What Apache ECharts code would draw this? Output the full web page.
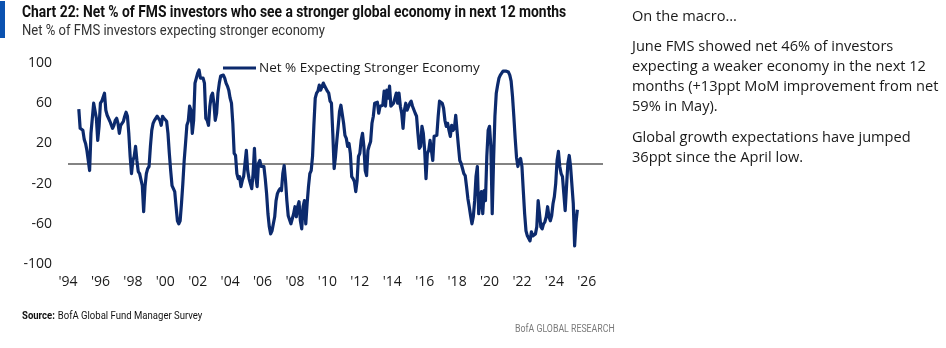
<!DOCTYPE html>
<html>
<head>
<meta charset="utf-8">
<script src="https://cdn.jsdelivr.net/npm/echarts@6/dist/echarts.min.js"></script>
<style>
html,body{margin:0;padding:0;background:#fff;}
#chart{width:946px;height:348px;}
</style>
</head>
<body>
<div id="chart"></div>
<script>
// Series start: September 1994, monthly
const startYear = 1994;
const startMonthIndex = 8; // 0 = Jan
const vals1990s = [
  54, 35, 34, 33,
  24, 20, 13, 3, -7, 30, 45, 60, 60, 45, 23, 37,
  60, 62, 62, 70, 53, 48, 45, 42, 43, 35, 38, 43,
  45, 40, 30, 38, 37, 42, 47, 51, 47, 30, 7, -10,
  3, 7, 17, 3, -8, -10, -10, -22, -48, -23, -10, -5,
  -3, 17, 33, 40, 43, 42, 47, 45, 43, 38, 47, 45
];
const vals2000s = [
  44, 42, 30, 10, -7, -22, -25, -28, -43, -57, -60, -57,
  -40, -20, 3, 20, 38, 42, 57, 53, 30, 43, 80, 85,
  90, 93, 85, 85, 85, 80, 45, 43, 38, 57, 67, 70,
  60, 43, 50, 70, 80, 87, 88, 88, 85, 80, 77, 73,
  65, 60, 40, 10, 8, -10, -15, -13, -23, -17, -13, -12,
  13, -7, -15, -20, -25, -10, 15, -13, -23, 0, 3, -3,
  -2, -3, -15, -30, -50, -63, -70, -67, -60, -53, -37, -30,
  -27, -25, -27, -10, -2, -17, -37, -52, -53, -60, -55, -50,
  -43, -53, -43, -38, -57, -65, -43, -37, -60, -40, -23, -10,
  -7, 7, 38, 65, 70, 72, 78, 73, 73, 80, 77, 77
];
const vals2010s = [
  72, 70, 62, 60, 30, -5, 7, 23, 37, 52, 58, 58,
  40, 28, 25, 17, 20, 10, -13, -15, -18, -28, -17, 7,
  10, 23, 30, 17, -7, -12, 13, 18, 22, 40, 47, 60,
  60, 61, 50, 57, 58, 58, 72, 57, 73, 65, 77, 57,
  57, 60, 65, 70, 60, 70, 57, 50, 35, 53, 60, 53,
  53, 60, 62, 57, 57, 50, 47, 30, 15, 17, 37, 30,
  13, -15, 10, 13, 23, 23, 3, 27, 27, 28, 47, 62,
  63, 60, 55, 43, 37, 40, 33, 27, 38, 33, 35, 48,
  32, 17, 3, 0, -5, -10, -12, -23, -35, -43, -52, -60,
  -53, -37, -13, -3, -50, -37, -28, -50, -27, -37, 7, 33
];
const vals2020s = [
  37, 17, -50, 3, 47, 70, 78, 85, 88, 90, 92, 92,
  92, 92, 91, 88, 82, 67, 47, 25, 6, -3, 3, 5,
  -3, -27, -50, -67, -72, -73, -77, -68, -72, -72, -70, -63,
  -37, -50, -63, -65, -60, -58, -53, -43, -53, -57, -52, -40,
  -33, -20, 3, 12, -3, -10, -13, -30, -47, -23, 0, 8,
  -3, -2, -40, -82, -59, -46
];
const tickYears = [1994, 1996, 1998, 2000, 2002, 2004, 2006, 2008, 2010, 2012, 2014, 2016, 2018, 2020, 2022, 2024, 2026];
const tickLabels = ["'94", "'96", "'98", "'00", "'02", "'04", "'06", "'08", "'10", "'12", "'14", "'16", "'18", "'20", "'22", "'24", "'26"];
const yTicks = [-100, -60, -20, 20, 60, 100];
const seriesName = 'Net % Expecting Stronger Economy';

const allVals = vals1990s.concat(vals2000s, vals2010s, vals2020s);
const seriesData = allVals.map((v, i) => [startYear + (startMonthIndex + i) / 12, v]);

const chart = echarts.init(document.getElementById('chart'), null, {renderer: 'canvas'});
const axisFont = 'Open Sans';
const narrow = (txt, x, y, size, weight, fill, sx) => ({
  type: 'text', x: x, y: y, scaleX: sx, scaleY: 1,
  style: {text: txt, font: weight + ' ' + size + 'px Roboto', fill: fill, verticalAlign: 'middle', align: 'left'}
});
const body = (txt, y) => ({
  type: 'text', x: 632, y: y,
  style: {text: txt, font: '14.6px "Open Sans"', fill: '#1a1a1a', verticalAlign: 'middle', align: 'left'}
});
chart.setOption({
  animation: false,
  backgroundColor: '#ffffff',
  grid: {left: 68, right: 343, top: 63, bottom: 84, containLabel: false},
  legend: {
    data: [seriesName],
    left: 218, top: 56,
    icon: 'rect', itemWidth: 33, itemHeight: 3, itemGap: 10,
    textStyle: {fontFamily: axisFont, fontSize: 13.5, color: '#1a1a1a', padding: [0,0,0,-2]}
  },
  xAxis: {
    type: 'value', min: 1994, max: 2027, interval: 2,
    axisLine: {show: false}, axisTick: {show: false}, splitLine: {show: false},
    axisLabel: {
      fontFamily: axisFont, fontSize: 14, color: '#1a1a1a', margin: 11,
      showMaxLabel: false,
      formatter: v => { const k = tickYears.indexOf(Math.round(v)); return k >= 0 ? tickLabels[k] : ''; }
    }
  },
  yAxis: {
    type: 'value', min: yTicks[0], max: yTicks[yTicks.length - 1], interval: 40,
    axisLine: {show: false}, axisTick: {show: false}, splitLine: {show: false},
    axisLabel: {fontFamily: axisFont, fontSize: 14, color: '#1a1a1a', margin: 16}
  },
  series: [{
    name: seriesName, type: 'line', data: seriesData,
    symbol: 'none', smooth: false,
    lineStyle: {color: '#0c2a6d', width: 3.2, join: 'round'},
    itemStyle: {color: '#0c2a6d'},
    z: 3,
    markLine: {
      silent: true, symbol: 'none', label: {show: false},
      lineStyle: {color: '#5a5a5a', width: 1.5, type: 'solid'},
      data: [{yAxis: 0}],
      z: 1
    }
  }],
  graphic: [
    {type: 'rect', x: 0, y: 1, shape: {x: 0, y: 0, width: 5, height: 37}, style: {fill: '#0b52b0'}},
    narrow('Chart 22: Net % of FMS investors who see a stronger global economy in next 12 months', 22, 13, 16, 'bold', '#111111', 0.865),
    narrow('Net % of FMS investors expecting stronger economy', 22, 31, 15, 'normal', '#333333', 0.871),
    {type: 'text', x: 22, y: 316, scaleX: 0.868, scaleY: 1,
      style: {rich: {b: {font: 'bold 11px Roboto', fill: '#111'}, n: {font: '11px Roboto', fill: '#111'}},
        text: '{b|Source:} {n|BofA Global Fund Manager Survey}', verticalAlign: 'middle', align: 'left'}},
    narrow('BofA GLOBAL RESEARCH', 515, 329, 10, 'normal', '#7a7a7a', 0.878),
    body('On the macro…', 17),
    body('June FMS showed net 46% of investors', 47),
    body('expecting a weaker economy in the next 12', 67),
    body('months (+13ppt MoM improvement from net', 87),
    body('59% in May).', 107),
    body('Global growth expectations have jumped', 138),
    body('36ppt since the April low.', 158)
  ]
});
</script>
</body>
</html>
